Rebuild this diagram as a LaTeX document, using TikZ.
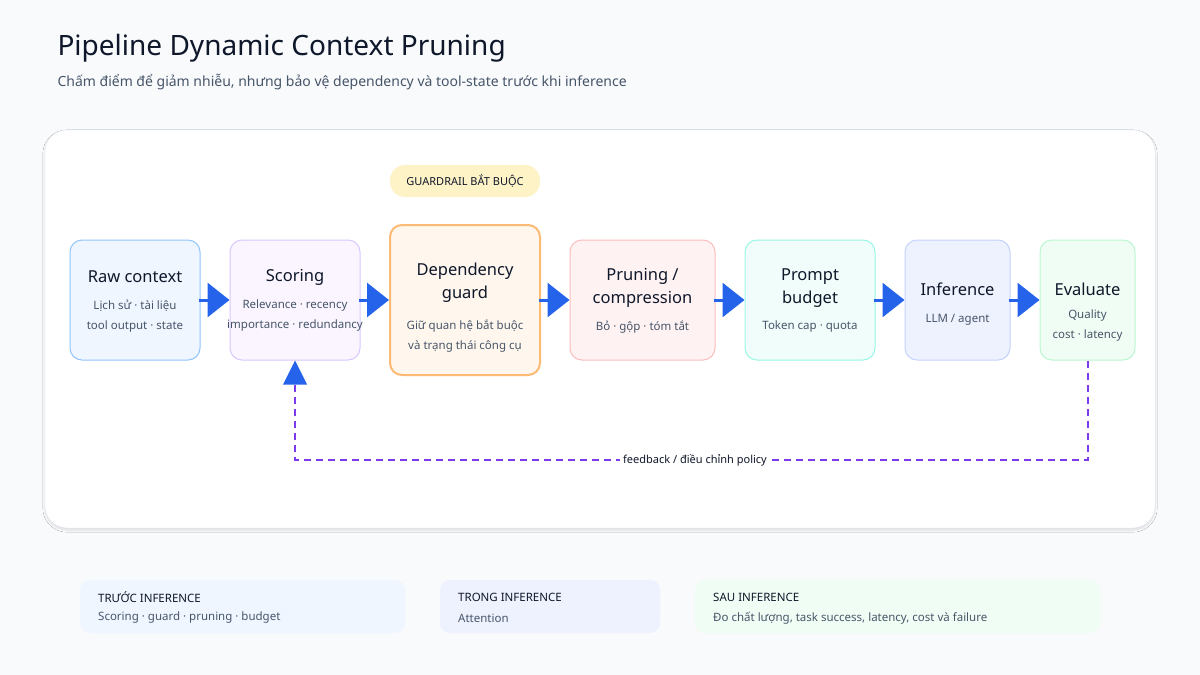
\documentclass[tikz,border=0pt]{standalone}
\usepackage{fontspec}
\setmainfont{Noto Sans}
\usetikzlibrary{calc,arrows.meta,positioning,shadows.blur}
\definecolor{bgc}{HTML}{F8FAFC}
\definecolor{ink}{HTML}{0F172A}
\definecolor{muted}{HTML}{475569}
\definecolor{flow}{HTML}{2563EB}
\definecolor{fb}{HTML}{7C3AED}
\tikzset{
  box/.style={draw, rounded corners=12pt, line width=1pt, inner sep=0pt},
  ttl/.style={font=\bfseries\fontsize{16.5}{21}\selectfont, text=ink, align=center},
  sub/.style={font=\fontsize{11.5}{20}\selectfont, text=muted, align=center},
  flowarrow/.style={draw=flow, line width=3pt, -{Triangle[length=22pt,width=34pt]}, shorten <=-2pt},
}
\begin{document}
\begin{tikzpicture}[x=1pt,y=-1pt]
	\fill[bgc] (0,0) rectangle (1200,675);
	\useasboundingbox (0,0) rectangle (1200,675);
	
	% title
	\node[anchor=west, font=\bfseries\fontsize{28}{32}\selectfont, text=ink] (title) at (54,48) {Pipeline Dynamic Context Pruning};
	\node[anchor=west, font=\fontsize{14}{17}\selectfont, text=muted] (subtitle) at (54,82) {Chấm điểm để giảm nhiễu, nhưng bảo vệ dependency và tool-state trước khi inference};
	
	% main panel
	\fill[white, rounded corners=22pt, blur shadow={shadow blur steps=8, shadow xshift=0pt, shadow yshift=-2pt, shadow opacity=12}] (45,130) rectangle (1155,528);
	\draw[rounded corners=22pt, draw={rgb,255:red,226;green,232;blue,240}] (45,130) rectangle (1155,528);
	
	% guardrail pill
	\node[fill={rgb,255:red,254;green,243;blue,199}, rounded corners=15pt, minimum width=150pt, minimum height=32pt,
	  font=\bfseries\fontsize{11}{13}\selectfont, text=ink] (pill) at (465,181) {GUARDRAIL BẮT BUỘC};
	
	% stages
	\node[box, draw={rgb,255:red,147;green,197;blue,253}, fill={rgb,255:red,239;green,246;blue,255}, minimum width=130pt, minimum height=120pt] (raw) at (135,300) {};
	\node[box, draw={rgb,255:red,216;green,200;blue,254}, fill={rgb,255:red,250;green,245;blue,255}, minimum width=130pt, minimum height=120pt] (score) at (295,300) {};
	\node[box, draw={rgb,255:red,253;green,186;blue,116}, fill={rgb,255:red,255;green,247;blue,237}, line width=2pt, minimum width=150pt, minimum height=150pt] (guard) at (465,300) {};
	\node[box, draw={rgb,255:red,252;green,190;blue,190}, fill={rgb,255:red,254;green,242;blue,242}, minimum width=145pt, minimum height=120pt] (prune) at (642.5,300) {};
	\node[box, draw={rgb,255:red,153;green,246;blue,228}, fill={rgb,255:red,240;green,253;blue,250}, minimum width=130pt, minimum height=120pt] (budget) at (810,300) {};
	\node[box, draw={rgb,255:red,199;green,210;blue,254}, fill={rgb,255:red,238;green,242;blue,255}, minimum width=105pt, minimum height=120pt] (infer) at (957.5,300) {};
	\node[box, draw={rgb,255:red,187;green,247;blue,208}, fill={rgb,255:red,240;green,253;blue,244}, minimum width=95pt, minimum height=120pt] (eval) at (1087.5,300) {};
	
	% stage texts
	\node[ttl] (rawT) at ($(raw)+(0,-23)$) {Raw context};
	\node[sub] (rawS) at ($(raw)+(0,16)$) {Lịch sử · tài liệu\\tool output · state};
	\node[ttl] (scoreT) at ($(score)+(0,-23)$) {Scoring};
	\node[sub] (scoreS) at ($(score)+(0,16)$) {Relevance · recency\\importance · redundancy};
	\node[ttl, font=\bfseries\fontsize{16.5}{23}\selectfont] (guardT) at ($(guard)+(0,-17)$) {Dependency\\guard};
	\node[sub] (guardS) at ($(guard)+(0,36)$) {Giữ quan hệ bắt buộc\\và trạng thái công cụ};
	\node[ttl, font=\bfseries\fontsize{16.5}{23}\selectfont] (pruneT) at ($(prune)+(0,-12)$) {Pruning /\\compression};
	\node[sub] (pruneS) at ($(prune)+(0,27)$) {Bỏ · gộp · tóm tắt};
	\node[ttl, font=\bfseries\fontsize{16.5}{23}\selectfont] (budgetT) at ($(budget)+(0,-12)$) {Prompt\\budget};
	\node[sub] (budgetS) at ($(budget)+(0,27)$) {Token cap · quota};
	\node[ttl] (inferT) at ($(infer)+(0,-11)$) {Inference};
	\node[sub] (inferS) at ($(infer)+(0,20)$) {LLM / agent};
	\node[ttl] (evalT) at ($(eval)+(0,-11)$) {Evaluate};
	\node[sub] (evalS) at ($(eval)+(0,26)$) {Quality\\cost · latency};
	
	% flow
	\foreach \a/\b in {raw/score, score/guard, guard/prune, prune/budget, budget/infer, infer/eval}
	  \draw[flowarrow] (\a.east) -- (\b.west);
	
	% feedback loop
	\coordinate (fbR) at (1087.5,460);
	\coordinate (fbL) at (295,460);
	\draw[fb, line width=2pt, dash pattern=on 7pt off 5pt] (eval.south) -- (fbR) -- (fbL) -- ($(score.south)+(0,22)$);
	\draw[draw=none, fill=flow] (score.south) -- ++(-12,24) -- ++(24,0) -- cycle;
	\node[fill=white, inner sep=3pt, font=\bfseries\fontsize{11}{13}\selectfont, text=ink] (fbText) at (695,460) {feedback / điều chỉnh policy};
	
	% bottom cards
	\fill[fill={rgb,255:red,239;green,246;blue,255}, rounded corners=10pt] (80,580) rectangle (405,633);
	\fill[fill={rgb,255:red,238;green,242;blue,255}, rounded corners=10pt] (440,580) rectangle (660,633);
	\fill[fill={rgb,255:red,240;green,253;blue,244}, rounded corners=10pt] (695,580) rectangle (1100,633);
	\foreach \x/\t/\s in {98/TRƯỚC INFERENCE/Scoring · guard · pruning · budget,
	                      458/TRONG INFERENCE/Attention / learned policy (nếu có),
	                      713/SAU INFERENCE/{Đo chất lượng, task success, latency, cost và failure}} {
	  \node[anchor=west, inner sep=0pt, font=\bfseries\fontsize{11.5}{13}\selectfont, text=ink] at (\x,597) {\t};
	  \node[anchor=west, inner sep=0pt, font=\fontsize{11.5}{13}\selectfont, text=muted] at (\x,618) {\s};
	}
\end{tikzpicture}
\end{document}
